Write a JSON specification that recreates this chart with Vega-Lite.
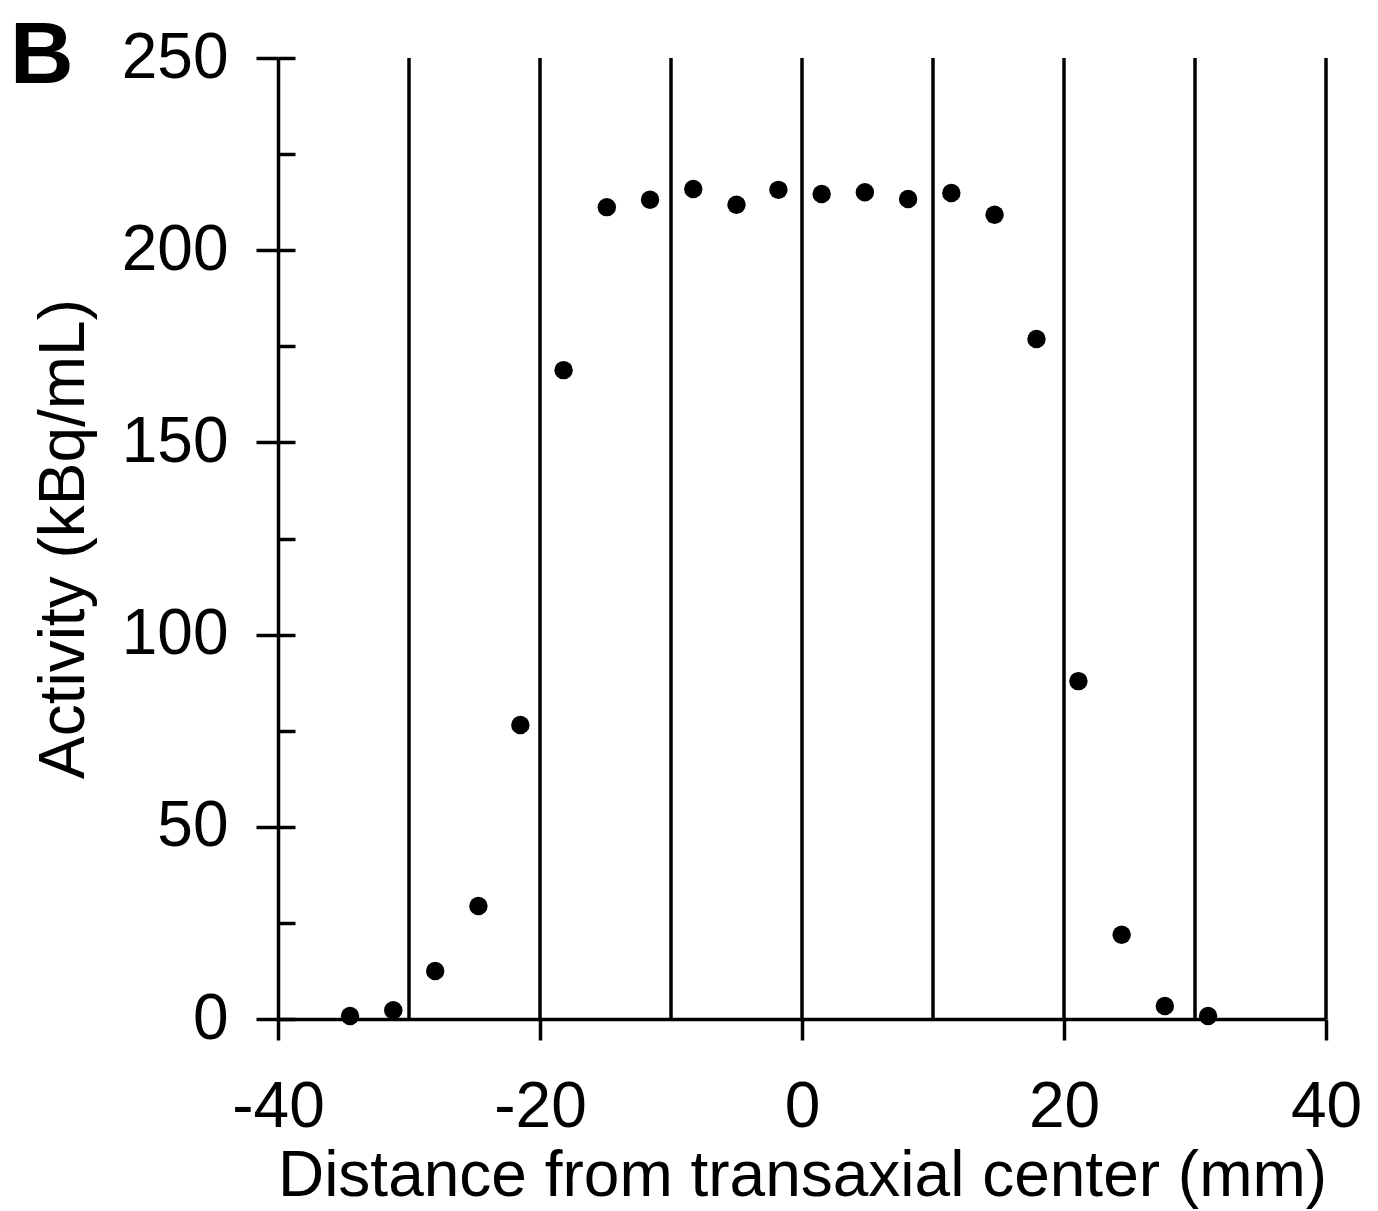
{
  "$schema": "https://vega.github.io/schema/vega-lite/v6.json",
  "width": 1048,
  "height": 961,
  "autosize": {"type": "none"},
  "padding": {"left": 278, "top": 58, "right": 52, "bottom": 192},
  "background": "white",
  "title": {
    "text": "B",
    "anchor": "start",
    "frame": "group",
    "orient": "top",
    "font": "Liberation Sans",
    "fontSize": 88,
    "fontWeight": "bold",
    "color": "black",
    "baseline": "alphabetic",
    "offset": 0,
    "dx": -268,
    "dy": 145
  },
  "config": {
    "view": {"stroke": null},
    "font": "Liberation Sans",
    "axis": {
      "domainColor": "black",
      "domainWidth": 3.5,
      "tickColor": "black",
      "tickWidth": 3.5,
      "labelColor": "black",
      "titleColor": "black",
      "labelFont": "Liberation Sans",
      "titleFont": "Liberation Sans",
      "labelFontSize": 64,
      "titleFontSize": 64,
      "titleFontWeight": "normal",
      "grid": false
    }
  },
  "datasets": {
    "pts": [
      {"x": -34.5, "y": 0.8},
      {"x": -31.2, "y": 2.3},
      {"x": -28.0, "y": 12.5},
      {"x": -24.7, "y": 29.4},
      {"x": -21.5, "y": 76.5},
      {"x": -18.2, "y": 168.8},
      {"x": -14.9, "y": 211.2},
      {"x": -11.6, "y": 213.1},
      {"x": -8.3, "y": 215.9},
      {"x": -5.0, "y": 211.8},
      {"x": -1.8, "y": 215.7},
      {"x": 1.5, "y": 214.6},
      {"x": 4.8, "y": 215.1},
      {"x": 8.1, "y": 213.3},
      {"x": 11.4, "y": 214.9},
      {"x": 14.7, "y": 209.2},
      {"x": 17.9, "y": 176.9},
      {"x": 21.1, "y": 87.9},
      {"x": 24.4, "y": 21.9},
      {"x": 27.7, "y": 3.4},
      {"x": 31.0, "y": 0.8}
    ],
    "lines": [
      {"x": -30}, {"x": -20}, {"x": -10}, {"x": 0},
      {"x": 10}, {"x": 20}, {"x": 30}, {"x": 40}
    ]
  },
  "layer": [
    {
      "data": {"name": "lines"},
      "mark": {"type": "rule", "color": "black", "strokeWidth": 3.5},
      "encoding": {
        "x": {"field": "x", "type": "quantitative", "scale": {"domain": [-40, 40], "nice": false}}
      }
    },
    {
      "data": {"name": "pts"},
      "mark": {"type": "circle", "color": "black", "opacity": 1, "size": 340},
      "encoding": {
        "x": {
          "field": "x", "type": "quantitative",
          "scale": {"domain": [-40, 40], "nice": false},
          "axis": {
            "values": [-40, -20, 0, 20, 40],
            "tickSize": 21,
            "labelPadding": 35,
            "labelExpr": "datum.value < 0 ? '-' + abs(datum.value) : '' + datum.value",
            "title": "Distance from transaxial center (mm)",
            "titlePadding": 5,
            "labelFlush": false
          }
        },
        "y": {
          "field": "y", "type": "quantitative",
          "scale": {"domain": [0, 250], "nice": false},
          "axis": {
            "values": [0, 50, 100, 150, 200, 250],
            "tickSize": 22,
            "labelPadding": 28,
            "title": "Activity (kBq/mL)",
            "titlePadding": 25,
            "labelFlush": false
          }
        }
      }
    },
    {
      "data": {"name": "pts"},
      "mark": {"type": "point", "opacity": 0},
      "encoding": {
        "x": {"field": "x", "type": "quantitative", "scale": {"domain": [-40, 40], "nice": false}},
        "y": {
          "field": "y", "type": "quantitative",
          "scale": {"domain": [0, 250], "nice": false},
          "axis": {
            "orient": "left",
            "values": [0, 25, 50, 75, 100, 125, 150, 175, 200, 225, 250],
            "tickSize": -17,
            "labels": false,
            "domain": false,
            "title": null
          }
        }
      }
    }
  ],
  "resolve": {"axis": {"y": "independent"}}
}
